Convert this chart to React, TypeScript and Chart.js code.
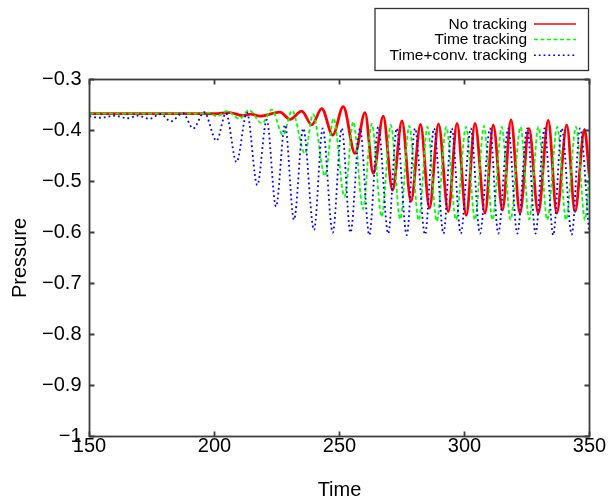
import React, { useEffect, useRef } from 'react';
import { Chart, registerables } from 'chart.js';

Chart.register(...registerables);

const FONT = "'Liberation Sans', Arial, Helvetica, sans-serif";

// Series labels
const seriesLabels = ['No tracking', 'Time tracking', 'Time+conv. tracking'];

// No tracking (red): times and pressures at read extrema
const noTrackT = [150, 200, 206, 211.4, 214.5, 218.2, 226.2, 230.2, 234.9, 238.9, 242.9, 247.3, 251.5, 256.2, 260.2, 263.5, 267.5, 271.2, 275, 278.6, 282.4, 286, 289.6, 293.5, 297, 300.7, 304.2, 308.2, 311.5, 315.2, 318.6, 322.2, 325.8, 329.5, 333.5, 336.9, 340.9, 344.2, 348, 350];
const noTrackP = [-0.367, -0.367, -0.365, -0.371, -0.368, -0.372, -0.364, -0.378, -0.362, -0.389, -0.357, -0.409, -0.353, -0.445, -0.365, -0.484, -0.372, -0.517, -0.381, -0.539, -0.388, -0.552, -0.387, -0.559, -0.386, -0.566, -0.386, -0.562, -0.389, -0.556, -0.379, -0.562, -0.396, -0.562, -0.38, -0.562, -0.389, -0.559, -0.398, -0.493];

// Time tracking (green)
const timeTrackT = [150, 195, 197.5, 201, 205, 210, 213.8, 219, 222.9, 227.4, 231, 236.2, 239.4, 244.2, 247.6, 252, 255.5, 259.4, 262.9, 266.9, 270.5, 274.3, 277.9, 281.7, 285.2, 288.9, 292.7, 296.6, 300.6, 304.2, 307.8, 311.2, 314.9, 318.4, 322.4, 325.9, 329.6, 333.1, 337.1, 340.6, 344.6, 348.2, 350];
const timeTrackP = [-0.367, -0.367, -0.365, -0.372, -0.362, -0.377, -0.36, -0.386, -0.359, -0.409, -0.361, -0.445, -0.368, -0.489, -0.376, -0.53, -0.383, -0.554, -0.387, -0.569, -0.389, -0.574, -0.391, -0.576, -0.393, -0.578, -0.393, -0.575, -0.393, -0.575, -0.391, -0.575, -0.393, -0.575, -0.393, -0.574, -0.393, -0.575, -0.393, -0.575, -0.393, -0.575, -0.48];

// Time + convective tracking (blue)
const convTrackT = [150, 154.2, 160.2, 165, 169.4, 173.9, 178.5, 182.5, 187.3, 191.5, 195.9, 200.8, 204.6, 208.8, 213, 217.1, 220.9, 224.6, 228.2, 231.8, 235.5, 239.8, 243.3, 247.3, 250.9, 254.4, 258.2, 261.9, 265.5, 269.5, 272.9, 276.9, 280.2, 284.2, 287.8, 291.6, 294.9, 298.5, 302.5, 306.2, 310.2, 313.5, 317.5, 321.1, 325.1, 328.4, 332, 335.5, 338.9, 342.9, 346.2, 349.8];
const convTrackP = [-0.372, -0.375, -0.371, -0.376, -0.371, -0.377, -0.368, -0.382, -0.366, -0.396, -0.364, -0.42, -0.366, -0.462, -0.365, -0.507, -0.379, -0.549, -0.389, -0.575, -0.396, -0.595, -0.396, -0.6, -0.396, -0.6, -0.396, -0.605, -0.393, -0.602, -0.396, -0.605, -0.396, -0.604, -0.396, -0.602, -0.396, -0.602, -0.396, -0.602, -0.396, -0.602, -0.396, -0.602, -0.396, -0.602, -0.396, -0.605, -0.396, -0.604, -0.396, -0.598];

// Axis settings
const xMin = 150;
const xMax = 350;
const xStep = 50;
const yMin = -1;
const yMax = -0.3;
const yStep = 0.1;

const toPoints = (ts: number[], ps: number[]) => ts.map((t, i) => ({ x: t, y: ps[i] }));

const fmtY = (v: number) => {
  const r = Math.round(v * 10) / 10;
  return String(r).replace('-', '\u2212');
};

const framePlugin = {
  id: 'framePlugin',
  afterDatasetsDraw(chart: any) {
    const { ctx, chartArea, scales } = chart;
    const { left, right, top, bottom } = chartArea;
    const x = scales.x;
    const y = scales.y;
    const TL = 5;
    ctx.save();
    ctx.strokeStyle = '#3c3c3c';
    ctx.lineWidth = 1.8;
    ctx.beginPath();
    x.ticks.forEach((t: any) => {
      const px = x.getPixelForValue(t.value);
      ctx.moveTo(px, bottom);
      ctx.lineTo(px, bottom - TL);
      ctx.moveTo(px, top);
      ctx.lineTo(px, top + TL);
    });
    y.ticks.forEach((t: any) => {
      const py = y.getPixelForValue(t.value);
      ctx.moveTo(left, py);
      ctx.lineTo(left + TL, py);
      ctx.moveTo(right, py);
      ctx.lineTo(right - TL, py);
    });
    ctx.stroke();
    ctx.strokeRect(left, top, right - left, bottom - top);

    // Legend box
    ctx.lineWidth = 1.3;
    ctx.strokeStyle = '#333';
    ctx.strokeRect(375, 8.5, 213.5, 62);
    ctx.font = `15.5px ${FONT}`;
    ctx.textAlign = 'right';
    ctx.textBaseline = 'middle';
    chart.data.datasets.forEach((ds: any, i: number) => {
      const ry = 24 + i * 15.6;
      ctx.fillStyle = '#000';
      ctx.fillText(ds.label, 527, ry + 0.5);
      ctx.save();
      ctx.strokeStyle = ds.borderColor;
      ctx.lineWidth = ds.legendWidth;
      ctx.setLineDash(ds.borderDash || []);
      ctx.beginPath();
      ctx.moveTo(534, ry);
      ctx.lineTo(576, ry);
      ctx.stroke();
      ctx.restore();
    });
    ctx.restore();
  },
};

export default function App() {
  const ref = useRef<HTMLCanvasElement | null>(null);

  useEffect(() => {
    if (!ref.current) return;
    Chart.defaults.font.family = FONT;
    Chart.defaults.color = '#000';
    const chart = new Chart(ref.current, {
      type: 'line',
      data: {
        datasets: [
          {
            label: seriesLabels[0],
            data: toPoints(noTrackT, noTrackP),
            borderColor: '#ff0000',
            borderWidth: 2.8,
            legendWidth: 1.5,
            pointRadius: 0,
            cubicInterpolationMode: 'monotone',
            fill: false,
            order: 3,
          } as any,
          {
            label: seriesLabels[1],
            data: toPoints(timeTrackT, timeTrackP),
            borderColor: '#00ff00',
            borderWidth: 1.8,
            legendWidth: 1.5,
            borderDash: [4, 2.5],
            pointRadius: 0,
            cubicInterpolationMode: 'monotone',
            fill: false,
            order: 2,
          } as any,
          {
            label: seriesLabels[2],
            data: toPoints(convTrackT, convTrackP),
            borderColor: '#0000ff',
            borderWidth: 1.8,
            legendWidth: 1.5,
            borderDash: [1.8, 3],
            pointRadius: 0,
            cubicInterpolationMode: 'monotone',
            fill: false,
            order: 1,
          } as any,
        ],
      },
      options: {
        responsive: false,
        animation: false,
        devicePixelRatio: 1,
        layout: { padding: { top: 79.5, right: 18.5, left: 0, bottom: 0 } },
        plugins: { legend: { display: false }, tooltip: { enabled: false } },
        scales: {
          x: {
            type: 'linear',
            min: xMin,
            max: xMax,
            ticks: {
              stepSize: xStep,
              padding: 0,
              maxRotation: 0,
              color: '#000',
              font: { size: 20, lineHeight: 1 },
            },
            grid: { display: false, drawTicks: false, tickLength: 0 },
            border: { display: false },
            title: {
              display: true,
              text: 'Time',
              color: '#000',
              font: { size: 20, lineHeight: 0.8 },
              padding: 0,
            },
            afterFit: (s: any) => {
              s.height = 61.5;
            },
          },
          y: {
            type: 'linear',
            min: yMin,
            max: yMax,
            ticks: {
              stepSize: yStep,
              padding: 8,
              color: '#000',
              font: { size: 20, lineHeight: 1 },
              callback: (v: any) => fmtY(Number(v)),
            },
            grid: { display: false, drawTicks: false, tickLength: 0 },
            border: { display: false },
            title: {
              display: true,
              text: 'Pressure',
              color: '#000',
              font: { size: 20, lineHeight: 1.2 },
              padding: { top: 8, bottom: 0 },
            },
            afterFit: (s: any) => {
              s.width = 89.5;
            },
          },
        },
      } as any,
      plugins: [framePlugin],
    });
    return () => chart.destroy();
  }, []);

  return (
    <div style={{ position: 'fixed', left: 0, top: 0, width: 608, height: 498, background: '#fff' }}>
      <canvas ref={ref} width={608} height={498} style={{ display: 'block' }} />
    </div>
  );
}
